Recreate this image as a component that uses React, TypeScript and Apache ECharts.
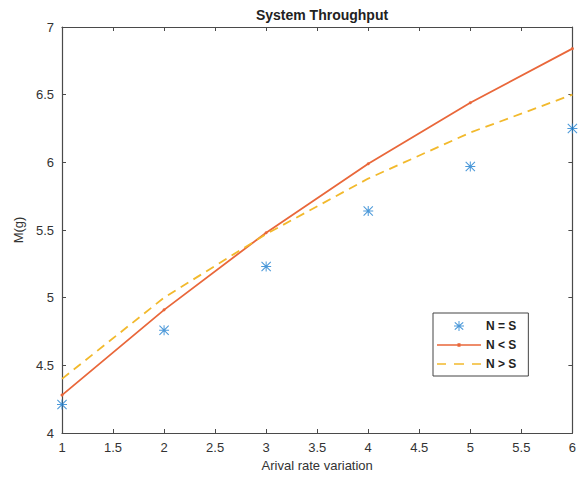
import React, { useEffect, useRef } from "react";
import * as echarts from "echarts";

const xValues = [1, 2, 3, 4, 5, 6];
const seriesEqual = [4.21, 4.76, 5.23, 5.64, 5.97, 6.25];
const seriesLess = [4.28, 4.91, 5.48, 5.99, 6.44, 6.84];
const seriesGreater = [4.4, 5.0, 5.47, 5.88, 6.22, 6.5];
const seriesNames = ["N = S", "N < S", "N > S"];

const asterisk =
  "path://M0 9 L20 9 L20 11 L0 11 Z M9 0 L11 0 L11 20 L9 20 Z M1.5 0 L20 18.5 L18.5 20 L0 1.5 Z M18.5 0 L20 1.5 L1.5 20 L0 18.5 Z";
const asteriskLegend =
  "path://M0 0 M44 10 M17 4.5 L27 4.5 L27 5.5 L17 5.5 Z M21.5 0 L22.5 0 L22.5 10 L21.5 10 Z M18.2 1 L26.6 8.3 L25.8 9 L17.4 1.7 Z M25.8 1 L26.6 1.7 L18.2 9 L17.4 8.3 Z";
const lessLegend =
  "path://M0 0 M44 10 M0 4.2 L44 4.2 L44 5.8 L0 5.8 Z M20.5 3.2 L23.5 3.2 L23.5 6.8 L20.5 6.8 Z";
const greaterLegend =
  "path://M0 0 M44 10 M0 4.2 L9 4.2 L9 5.8 L0 5.8 Z M17 4.2 L27 4.2 L27 5.8 L17 5.8 Z M35 4.2 L44 4.2 L44 5.8 L35 5.8 Z";

const pairs = (ys: number[]) => xValues.map((x, i) => [x, ys[i]]);

export default function App() {
  const ref = useRef<HTMLDivElement>(null);
  useEffect(() => {
    if (!ref.current) return;
    const chart = echarts.init(ref.current, undefined, { renderer: "svg" });
    const axisColor = "#4a4a4a";
    const font = "Liberation Sans, Arial, sans-serif";
    const baseAxis = {
      axisLine: { show: true, lineStyle: { color: axisColor, width: 1.2 } },
      axisTick: { show: true, inside: true, length: 4, lineStyle: { color: axisColor } },
      splitLine: { show: false },
    };
    chart.setOption({
      animation: false,
      backgroundColor: "#ffffff",
      textStyle: { fontFamily: font },
      title: {
        text: "System Throughput",
        left: 317,
        top: 3,
        textAlign: "center",
        textStyle: { fontSize: 14, fontWeight: "bold", color: "#222", fontFamily: font },
      },
      grid: { left: 62, right: 6, top: 27, bottom: 49 },
      legend: {
        orient: "vertical",
        left: 433,
        top: 313,
        padding: [7, 12, 6, 4],
        borderColor: "#444",
        borderWidth: 1,
        backgroundColor: "#fff",
        itemWidth: 44,
        itemHeight: 10,
        itemGap: 7,
        textStyle: { fontSize: 12, color: "#222", fontWeight: "bold", fontFamily: font },
        data: [
          { name: seriesNames[0], icon: asteriskLegend, itemStyle: { color: "#1f7fd0", borderWidth: 0 } },
          { name: seriesNames[1], icon: lessLegend, itemStyle: { color: "#e9673a", borderWidth: 0 } },
          { name: seriesNames[2], icon: greaterLegend, itemStyle: { color: "#f2b92c", borderWidth: 0 } },
        ],
      },
      xAxis: [
        {
          ...baseAxis,
          type: "value",
          min: 1,
          max: 6,
          interval: 0.5,
          position: "bottom",
          name: "Arival rate variation",
          nameLocation: "middle",
          nameGap: 25,
          nameTextStyle: { fontSize: 13, color: "#333" },
          axisLabel: { fontSize: 13, color: "#333", margin: 8 },
        },
        {
          ...baseAxis,
          type: "value",
          min: 1,
          max: 6,
          interval: 0.5,
          position: "top",
          axisLabel: { show: false },
        },
      ],
      yAxis: [
        {
          ...baseAxis,
          type: "value",
          min: 4,
          max: 7,
          interval: 0.5,
          position: "left",
          name: "M(g)",
          nameLocation: "middle",
          nameGap: 36,
          nameTextStyle: { fontSize: 13, color: "#333" },
          axisLabel: { fontSize: 13, color: "#333", margin: 8 },
        },
        {
          ...baseAxis,
          type: "value",
          min: 4,
          max: 7,
          interval: 0.5,
          position: "right",
          axisLabel: { show: false },
        },
      ],
      series: [
        {
          name: seriesNames[0],
          type: "scatter",
          xAxisIndex: 0,
          yAxisIndex: 0,
          symbol: asterisk,
          symbolSize: 10,
          itemStyle: { color: "#1f7fd0" },
          data: pairs(seriesEqual),
        },
        {
          name: seriesNames[1],
          type: "line",
          xAxisIndex: 0,
          yAxisIndex: 0,
          symbol: "circle",
          symbolSize: 3,
          showSymbol: true,
          itemStyle: { color: "#e9673a" },
          lineStyle: { color: "#e9673a", width: 1.8 },
          data: pairs(seriesLess),
        },
        {
          name: seriesNames[2],
          type: "line",
          xAxisIndex: 0,
          yAxisIndex: 0,
          symbol: "none",
          itemStyle: { color: "#f2b92c" },
          lineStyle: { color: "#f2b92c", width: 1.8, type: [9, 6] },
          data: pairs(seriesGreater),
        },
      ],
    });
    return () => chart.dispose();
  }, []);
  return (
    <div
      ref={ref}
      style={{ position: "fixed", left: 0, top: 0, width: 579, height: 482 }}
    />
  );
}
